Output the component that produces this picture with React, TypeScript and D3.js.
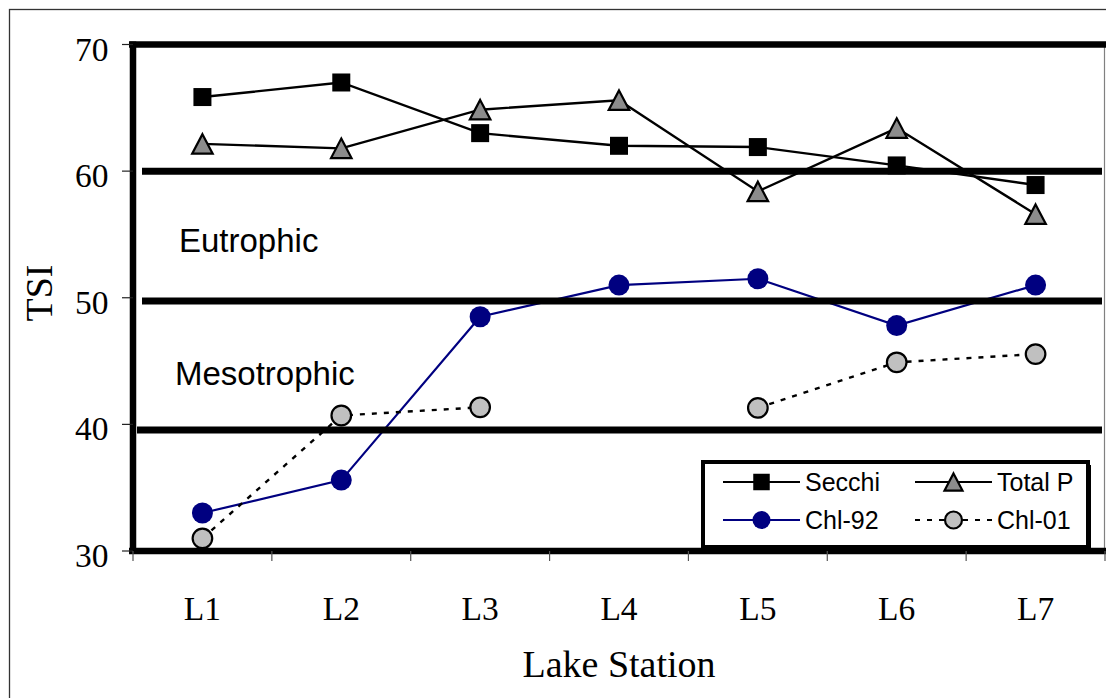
import React from "react";
import * as d3 from "d3";

const stations = ["L1", "L2", "L3", "L4", "L5", "L6", "L7"];
const secchi = [65.85, 67.0, 63.0, 62.0, 61.9, 60.45, 58.9];
const totalP = [62.15, 61.8, 64.85, 65.6, 58.4, 63.4, 56.6];
const chl92 = [33.0, 35.6, 48.5, 51.0, 51.5, 47.8, 51.0];
const chl01: (number | null)[] = [31.0, 40.7, 41.35, null, 41.3, 44.9, 45.55];
const yTicks = [30, 40, 50, 60, 70];
const thresholds = [60, 49.75, 39.55];
const zoneLabels = [
  { text: "Eutrophic", value: 53.65, x: 179 },
  { text: "Mesotrophic", value: 43.1, x: 175 },
];

const W = 1106;
const H = 698;
const left = 133;
const right = 1105;
const top = 44.5;
const bottom = 551;

const x = d3.scaleBand<string>().domain(stations).range([left, right]).paddingInner(0).paddingOuter(0);
const y = d3.scaleLinear().domain([30, 70]).range([bottom, top]);
const cx = (s: string) => (x(s) as number) + x.bandwidth() / 2;

const serif = "'Liberation Serif', 'Times New Roman', serif";
const sans = "'Liberation Sans', Arial, sans-serif";
const NAVY = "#000080";
const TRI_FILL = "#8c8c8c";
const CIRC_FILL = "#c0c0c0";

function Square({ x: px, y: py, s }: { x: number; y: number; s: number }) {
  return <rect x={px - s / 2} y={py - s / 2} width={s} height={s} fill="#000" />;
}
function Triangle({ x: px, y: py, s }: { x: number; y: number; s: number }) {
  const h = s * 0.95;
  const pts = `${px},${py - h / 2} ${px + s / 2},${py + h / 2} ${px - s / 2},${py + h / 2}`;
  return <polygon points={pts} fill={TRI_FILL} stroke="#000" strokeWidth={2.2} strokeLinejoin="miter" />;
}
function NavyDot({ x: px, y: py, r }: { x: number; y: number; r: number }) {
  return <circle cx={px} cy={py} r={r} fill={NAVY} />;
}
function GrayDot({ x: px, y: py, r }: { x: number; y: number; r: number }) {
  return <circle cx={px} cy={py} r={r} fill={CIRC_FILL} stroke="#000" strokeWidth={2.2} />;
}

export default function App() {
  const line = d3
    .line<number | null>()
    .defined((d) => d !== null)
    .x((_, i) => cx(stations[i]))
    .y((d) => y(d as number));

  const legendRows = [482, 520];
  const legendCols = [
    { x0: 723, x1: 800, tx: 805 },
    { x0: 915, x1: 992, tx: 997 },
  ];
  const legendItems = [
    { name: "Secchi", row: 0, col: 0, kind: "sq" },
    { name: "Total P", row: 0, col: 1, kind: "tri" },
    { name: "Chl-92", row: 1, col: 0, kind: "navy" },
    { name: "Chl-01", row: 1, col: 1, kind: "gray" },
  ];

  return (
    <svg
      width={W}
      height={H}
      viewBox={`0 0 ${W} ${H}`}
      style={{ position: "absolute", left: 0, top: 0, background: "#fff" }}
    >
      <rect x={0} y={0} width={W} height={H} fill="#fff" />
      {/* outer frame */}
      <rect x={9.5} y={9.5} width={W + 50} height={H + 50} fill="none" stroke="#333" strokeWidth={1.3} />

      {/* plot right border */}
      <line x1={right - 0.5} x2={right - 0.5} y1={top} y2={bottom} stroke="#808080" strokeWidth={1.2} />

      {/* series lines */}
      <path d={line(secchi) || ""} fill="none" stroke="#000" strokeWidth={2.4} />
      <path d={line(totalP) || ""} fill="none" stroke="#000" strokeWidth={2.4} />
      <path d={line(chl92) || ""} fill="none" stroke={NAVY} strokeWidth={2.2} />
      <path d={line(chl01) || ""} fill="none" stroke="#000" strokeWidth={2.4} strokeDasharray="5,7" />

      {/* threshold lines */}
      {thresholds.map((t, i) => (
        <line key={i} x1={left + (i === 2 ? 4 : 9)} x2={right - 3} y1={y(t)} y2={y(t)} stroke="#000" strokeWidth={7} />
      ))}

      {/* frame thick lines */}
      <line x1={left - 4} x2={W} y1={top} y2={top} stroke="#000" strokeWidth={6.5} />
      <line x1={left - 4} x2={W} y1={bottom} y2={bottom} stroke="#000" strokeWidth={6.5} />
      <line x1={left} x2={left} y1={top - 3} y2={bottom + 3} stroke="#000" strokeWidth={6.5} />

      {/* y ticks */}
      {yTicks.map((t) => (
        <g key={t}>
          <line x1={left - 11} x2={left} y1={y(t)} y2={y(t)} stroke="#222" strokeWidth={1.2} />
          <text x={108.5} y={y(t) + 16} textAnchor="end" fontFamily={serif} fontSize={33.5} fill="#000">
            {t}
          </text>
        </g>
      ))}

      {/* x ticks */}
      {stations.map((s) => (
        <line key={s} x1={x(s) as number} x2={x(s) as number} y1={bottom} y2={bottom + 10} stroke="#555" strokeWidth={1.2} />
      ))}
      <line x1={right} x2={right} y1={bottom} y2={bottom + 10} stroke="#555" strokeWidth={1.2} />
      {stations.map((s) => (
        <text key={s} x={cx(s)} y={620} textAnchor="middle" fontFamily={serif} fontSize={33.5} fill="#000">
          {s}
        </text>
      ))}

      {/* axis titles */}
      <text x={(left + right) / 2} y={677} textAnchor="middle" fontFamily={serif} fontSize={38} fill="#000">
        Lake Station
      </text>
      <text
        transform={`translate(51.5, 293) rotate(-90)`}
        textAnchor="middle"
        fontFamily={serif}
        fontSize={38}
        fill="#000"
      >
        TSI
      </text>

      {/* zone labels */}
      {zoneLabels.map((z) => (
        <text key={z.text} x={z.x} y={y(z.value)} fontFamily={sans} fontSize={33} fill="#000">
          {z.text}
        </text>
      ))}

      {/* markers */}
      {secchi.map((v, i) => (
        <Square key={"s" + i} x={cx(stations[i])} y={y(v)} s={18} />
      ))}
      {totalP.map((v, i) => (
        <Triangle key={"t" + i} x={cx(stations[i])} y={y(v)} s={20.5} />
      ))}
      {chl92.map((v, i) => (
        <NavyDot key={"n" + i} x={cx(stations[i])} y={y(v)} r={10.5} />
      ))}
      {chl01.map((v, i) =>
        v === null ? null : <GrayDot key={"g" + i} x={cx(stations[i])} y={y(v)} r={9.8} />
      )}

      {/* legend */}
      <g>
        <rect x={706} y={465} width={385} height={85} fill="#000" />
        <rect x={703} y={462} width={385} height={85} fill="#fff" stroke="#000" strokeWidth={4} />
        {legendItems.map((it) => {
          const c = legendCols[it.col];
          const ry = legendRows[it.row];
          const mx = (c.x0 + c.x1) / 2;
          return (
            <g key={it.name}>
              <line
                x1={c.x0}
                x2={c.x1}
                y1={ry}
                y2={ry}
                stroke={it.kind === "navy" ? NAVY : "#000"}
                strokeWidth={2.2}
                strokeDasharray={it.kind === "gray" ? "5,7" : undefined}
              />
              {it.kind === "sq" && <Square x={mx} y={ry} s={16.5} />}
              {it.kind === "tri" && <Triangle x={mx} y={ry} s={18} />}
              {it.kind === "navy" && <NavyDot x={mx} y={ry} r={9} />}
              {it.kind === "gray" && <GrayDot x={mx} y={ry} r={8.5} />}
              <text x={c.tx} y={ry + 9} fontFamily={sans} fontSize={25} fill="#000">
                {it.name}
              </text>
            </g>
          );
        })}
      </g>
    </svg>
  );
}
